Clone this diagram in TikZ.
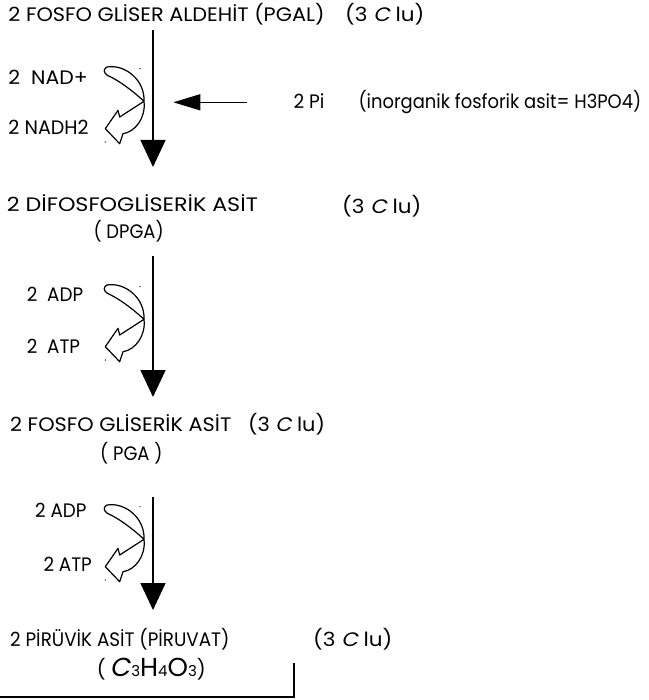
\documentclass[tikz,border=0pt]{standalone}
\usepackage{graphicx}
\usepackage{fontspec}
\setmainfont{Poppins}
\newfontfamily\slfont[FakeSlant=0.2]{Poppins}
\usetikzlibrary{arrows.meta}
\newcommand\hs[2]{\scalebox{#1}[1]{#2}}
\newcommand\threeC{(3 {\slfont C} lu)}
\newcommand\bigletter[1]{{\fontsize{26}{28}\selectfont #1}}
\newcommand\smalldigit[1]{{\fontsize{15}{17}\selectfont #1}}
\newcommand\redoxshape[1]{%
  \begin{scope}[shift={(105.3,#1)}]
    \draw[curv] (1.7,-1.7) .. controls (19.7,-4.7) and (39.7,11.3) .. (38.7,32.6)
      .. controls (25,20) and (12,11) .. (2,6.6)
      .. controls (-2,4) and (-2,0) .. cycle;
    \draw[curv] (38.7,32.6) -- (14.4,48.3) -- (12.7,41.6) -- (0,60) -- (14.4,75)
      -- (17.7,65) .. controls (29.7,63.3) and (40.7,49.3) .. (38.7,32.6);
    \fill (34.7,0) circle (0.7);
    \fill (0,73.3) circle (0.7);
  \end{scope}}
\begin{document}
\begin{tikzpicture}[x=1pt,y=-1pt,
  lbl/.style={anchor=base west, inner sep=0pt, font=\fontsize{19.5}{22}\selectfont},
  flow/.style={line width=1.5pt, -{Triangle[width=25pt,length=27pt]}},
  piarrow/.style={line width=1.5pt, -{Triangle[width=16pt,length=27pt]}},
  curv/.style={line width=1.2pt, line join=round},
  frame/.style={line width=1.2pt}]
\useasboundingbox (0,0) rectangle (648,700);

% block 1
\node[lbl] (t1) at (8.3,21.7) {\hs{1.07}{2 FOSFO GLİSER ALDEHİT (PGAL)}};
\node[lbl] (c1) at (345,21.7) {\hs{1.1}{\threeC}};
\node[lbl] (nad) at (8.3,85) {\hs{1.05}{2 \ NAD+}};
\node[lbl] (nadh) at (8.3,135) {\hs{0.98}{2 NADH2}};
\node[lbl] (pi) at (293.3,108.3) {\hs{0.95}{2 Pi}};
\node[lbl] (pid) at (358.3,108.3) {\hs{0.92}{(inorganik fosforik asit= H3PO4)}};
\redoxshape{68.7}
\coordinate (a1s) at (153,30);
\coordinate (a1e) at (153,167);
\draw[flow] (a1s) -- (a1e);
\coordinate (pis) at (247,102.3);
\coordinate (pie) at (173.3,102.3);
\draw[piarrow] (pis) -- (pie);

% block 2
\node[lbl] (t2) at (6.7,211.7) {\hs{1.14}{2 DİFOSFOGLİSERİK ASİT}};
\node[lbl] (c2) at (342,214) {\hs{1.1}{\threeC}};
\node[lbl] (dpga) at (93.3,239) {\hs{0.92}{( DPGA)}};
\node[lbl] (adp1) at (26.7,301.7) {\hs{0.94}{2 \ ADP}};
\node[lbl] (atp1) at (26.7,353.3) {\hs{0.94}{2 \ ATP}};
\redoxshape{286.7}
\coordinate (a2s) at (153,256);
\coordinate (a2e) at (153,397);
\draw[flow] (a2s) -- (a2e);

% block 3
\node[lbl] (t3) at (10,431.7) {\hs{1.07}{2 FOSFO GLİSERİK ASİT \ \ \threeC}};
\node[lbl] (pga) at (100,460) {\hs{0.92}{( PGA )}};
\node[lbl] (adp2) at (35,517) {\hs{0.94}{2 ADP}};
\node[lbl] (atp2) at (43.3,571.7) {\hs{0.94}{2 ATP}};
\redoxshape{506.7}
\coordinate (a3s) at (153,497);
\coordinate (a3e) at (153,610);
\draw[flow] (a3s) -- (a3e);

% block 4
\node[lbl] (t4) at (10,646.7) {\hs{0.94}{2 PİRÜVİK ASİT (PİRUVAT)}};
\node[lbl] (c4) at (313,646.7) {\hs{1.1}{\threeC}};
\node[lbl] (form) at (96.7,676) {(\smalldigit{\ }\bigletter{\slfont C}\kern1.5pt\smalldigit{3}\bigletter{H}\smalldigit{4}\bigletter{O}\smalldigit{3})};
\coordinate (fr1) at (294,663);
\coordinate (fr2) at (294,697);
\coordinate (fr3) at (0,697);
\draw[frame] (fr1) -- (fr2) -- (fr3);
\end{tikzpicture}
\end{document}
